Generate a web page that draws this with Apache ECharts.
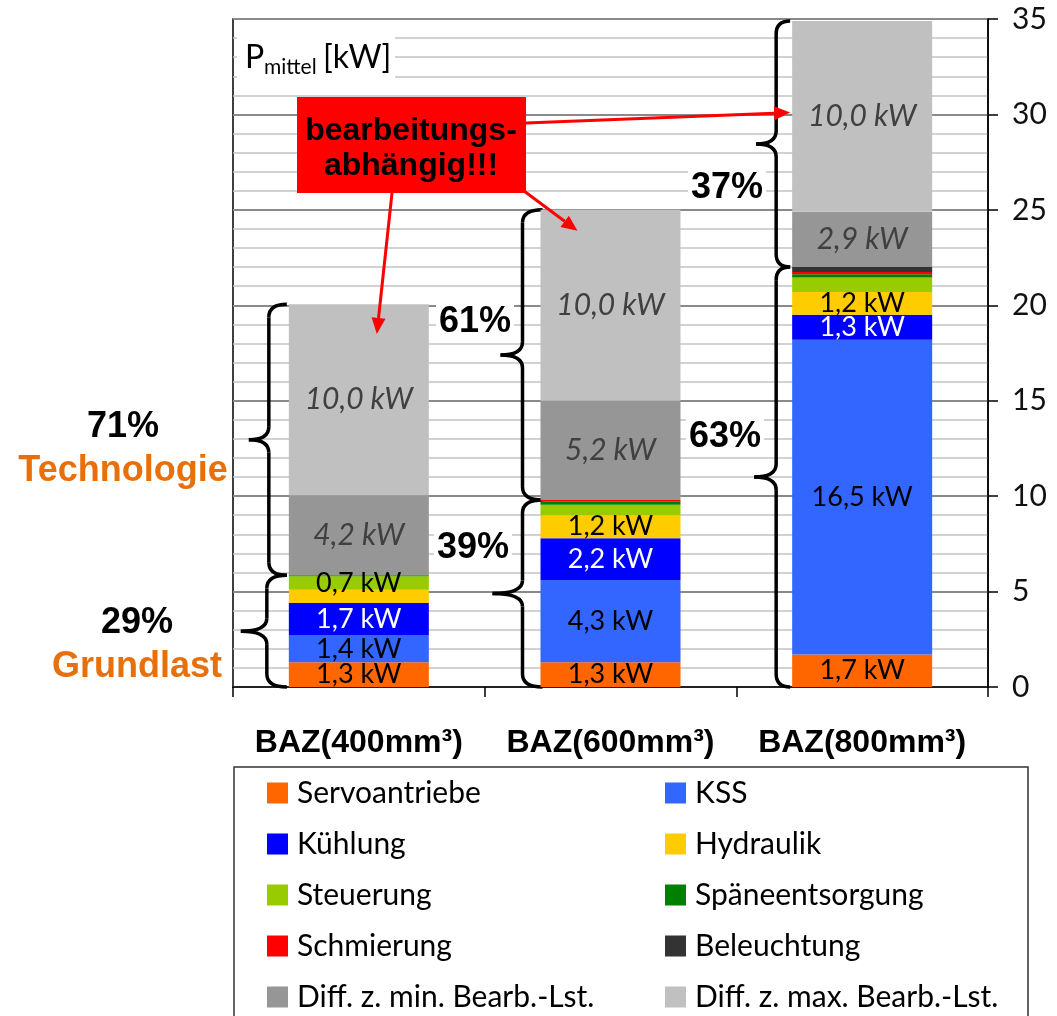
<!DOCTYPE html>
<html>
<head>
<meta charset="utf-8">
<script src="https://cdn.jsdelivr.net/npm/echarts@6/dist/echarts.min.js"></script>
<style>
  html, body { margin: 0; padding: 0; background: #fff; }
  #chart { width: 1057px; height: 1016px; }
</style>
</head>
<body>
<div id="chart"></div>
<script>
// Mean electrical power of three machining centres, split by consumer [kW]
const categories = ['BAZ(400mm³)', 'BAZ(600mm³)', 'BAZ(800mm³)'];
const servoantriebe    = [1.3, 1.3, 1.7];
const kss              = [1.4, 4.3, 16.5];
const kuehlung         = [1.7, 2.2, 1.3];
const hydraulik        = [0.7, 1.2, 1.2];
const steuerung        = [0.7, 0.55, 0.75];
const spaeneentsorgung = [0.05, 0.15, 0.18];
const schmierung       = [0.0, 0.1, 0.12];
const beleuchtung      = [0.0, 0.0, 0.25];
const diffMinBearb     = [4.2, 5.2, 2.9];
const diffMaxBearb     = [10.0, 10.0, 10.0];
const yTickLabels      = [0, 5, 10, 15, 20, 25, 30, 35];

const calibriLike = 'Lato, "Open Sans", sans-serif';
const arialLike = '"Liberation Sans", Arial, sans-serif';

// series: name, values, colour, label colour, label italics, which bars carry a label
const seriesDefs = [
  ['Servoantriebe', servoantriebe, '#FF6600', '#000', false, [1, 1, 1]],
  ['KSS', kss, '#3366FF', '#000', false, [1, 1, 1]],
  ['Kühlung', kuehlung, '#0000FF', '#fff', false, [1, 1, 1]],
  ['Hydraulik', hydraulik, '#FFCC00', '#000', false, [0, 1, 1]],
  ['Steuerung', steuerung, '#99CC00', '#000', false, [1, 0, 0]],
  ['Späneentsorgung', spaeneentsorgung, '#008000', '#000', false, [0, 0, 0]],
  ['Schmierung', schmierung, '#FF0000', '#000', false, [0, 0, 0]],
  ['Beleuchtung', beleuchtung, '#333333', '#fff', false, [0, 0, 0]],
  ['Diff. z. min. Bearb.-Lst.', diffMinBearb, '#969696', '#404040', true, [1, 1, 1]],
  ['Diff. z. max. Bearb.-Lst.', diffMaxBearb, '#C0C0C0', '#404040', true, [1, 1, 1]]
];

const fmtKW = v => v.toFixed(1).replace('.', ',') + ' kW';

const series = seriesDefs.map(([name, values, color, labelColor, italic, flags]) => ({
  name,
  type: 'bar',
  stack: 'leistung',
  barWidth: 140,
  itemStyle: { color },
  label: {
    position: 'inside',
    color: labelColor,
    fontFamily: calibriLike,
    fontSize: italic ? 30 : 27,
    fontStyle: italic ? 'italic' : 'normal',
    formatter: p => fmtKW(p.value)
  },
  data: values.map((v, i) => ({ value: v, label: { show: !!flags[i] } }))
}));

const leftLegend = ['Servoantriebe', 'Kühlung', 'Steuerung', 'Schmierung', 'Diff. z. min. Bearb.-Lst.'];
const rightLegend = ['KSS', 'Hydraulik', 'Späneentsorgung', 'Beleuchtung', 'Diff. z. max. Bearb.-Lst.'];

const legendBase = {
  orient: 'vertical',
  top: 778,
  itemWidth: 21,
  itemHeight: 21,
  itemGap: 21,
  icon: 'rect',
  selectedMode: false,
  padding: 0,
  textStyle: { fontFamily: calibriLike, fontSize: 30, color: '#000', lineHeight: 30, padding: [0, 0, 0, 4] }
};

const chart = echarts.init(document.getElementById('chart'), null, { renderer: 'canvas' });

chart.setOption({
  animation: false,
  backgroundColor: '#fff',
  grid: { left: 233, right: 69, top: 19, bottom: 329, show: true, borderColor: '#000', borderWidth: 1.5 },
  legend: [
    Object.assign({}, legendBase, { left: 267, data: leftLegend }),
    Object.assign({}, legendBase, { left: 665, data: rightLegend })
  ],
  xAxis: {
    type: 'category',
    data: categories,
    axisLine: { lineStyle: { color: '#000', width: 1.5 } },
    axisTick: { show: true, length: 10, lineStyle: { color: '#000', width: 1.5 } },
    axisLabel: {
      interval: 0,
      margin: 40,
      color: '#000',
      fontFamily: arialLike,
      fontWeight: 'bold',
      fontSize: 32
    }
  },
  yAxis: {
    type: 'value',
    position: 'right',
    min: yTickLabels[0],
    max: yTickLabels[yTickLabels.length - 1],
    interval: yTickLabels[1] - yTickLabels[0],
    axisLine: { show: true, lineStyle: { color: '#000', width: 1.5 } },
    axisTick: { show: true, length: 10, lineStyle: { color: '#000', width: 1.5 } },
    axisLabel: { margin: 24, color: '#111', fontFamily: calibriLike, fontSize: 30 },
    splitLine: { show: true, lineStyle: { color: '#8a8a8a', width: 2 } },
    minorTick: { show: false, splitNumber: 5 },
    minorSplitLine: { show: true, lineStyle: { color: '#c4c4c4', width: 1.5 } }
  },
  series
});

// ---- annotations: braces, shares, red call-out ----
const px = (ci, v) => chart.convertToPixel({ gridIndex: 0 }, [ci, v]);
const halfBar = 70;

const baseLoad = categories.map((_, i) =>
  servoantriebe[i] + kss[i] + kuehlung[i] + hydraulik[i] + steuerung[i] +
  spaeneentsorgung[i] + schmierung[i] + beleuchtung[i]);
const totals = categories.map((_, i) => baseLoad[i] + diffMinBearb[i] + diffMaxBearb[i]);

// curly brace built from quadratic curves and straight spine pieces
function brace(xTip, xv, xp, yTop, yBot) {
  const ym = (yTop + yBot) / 2, r = 13;
  const st = { stroke: '#000', lineWidth: 3.5, fill: null };
  const q = (x1, y1, cx, cy, x2, y2) => ({ type: 'bezierCurve', shape: { x1, y1, cpx1: cx, cpy1: cy, x2, y2 }, style: st });
  const l = (x1, y1, x2, y2) => ({ type: 'line', shape: { x1, y1, x2, y2 }, style: st });
  return {
    type: 'group', z: 100,
    children: [
      q(xTip, yTop, xv, yTop, xv, yTop + r),
      l(xv, yTop + r, xv, ym - r),
      q(xv, ym - r, xv, ym, xp, ym),
      q(xp, ym, xv, ym, xv, ym + r),
      l(xv, ym + r, xv, yBot - r),
      q(xv, yBot - r, xv, yBot, xTip, yBot)
    ]
  };
}

const graphics = [];
// brace offsets from the bar's left edge: [tip, spine, point]
const braceX = [[-2, -20, -40], [2, -18, -40], [-2, -16, -36]];
const braceXLow = [[-2, -22, -48], [2, -18, -48], [-2, -16, -38]];

categories.forEach((_, i) => {
  const left = px(i, 0)[0] - halfBar;
  const yTop = px(i, totals[i])[1];
  const yBase = px(i, baseLoad[i])[1];
  const yZero = px(i, 0)[1];
  const [t, s, p] = braceX[i];
  const [t2, s2, p2] = braceXLow[i];
  graphics.push(brace(left + t, left + s, left + p, yTop, yBase));
  graphics.push(brace(left + t2, left + s2, left + p2, yBase, yZero));
});

const pctText = (txt, x, y) => ({
  type: 'text', z: 101,
  style: {
    text: txt, x, y, align: 'center', verticalAlign: 'middle',
    font: `bold 36px ${arialLike}`, fill: '#000',
    backgroundColor: '#fff', padding: [0, 3]
  }
});
const orangeText = (txt, x, y) => ({
  type: 'text', z: 101,
  style: { text: txt, x, y, align: 'center', verticalAlign: 'middle', font: `bold 36px ${arialLike}`, fill: '#E8700A' }
});

const techShare = categories.map((_, i) => Math.round(100 * (diffMinBearb[i] + diffMaxBearb[i]) / totals[i]));
const baseShare = categories.map((_, i) => Math.round(100 * baseLoad[i] / totals[i]));

graphics.push(pctText(techShare[0] + '%', 123, 427));
graphics.push(orangeText('Technologie', 123, 471));
graphics.push(pctText(baseShare[0] + '%', 137, 623));
graphics.push(orangeText('Grundlast', 137, 667));
graphics.push(pctText(techShare[1] + '%', 475, 322));
graphics.push(pctText(baseShare[1] + '%', 473, 548));
graphics.push(pctText(techShare[2] + '%', 727, 188));
graphics.push(pctText(baseShare[2] + '%', 725, 437));

// axis title box
graphics.push({ type: 'rect', z: 100, shape: { x: 237, y: 37, width: 158, height: 44 }, style: { fill: '#fff' } });
graphics.push({ type: 'text', z: 101, style: { text: 'P', x: 245, y: 58, verticalAlign: 'middle', font: `32px ${calibriLike}`, fill: '#000' } });
graphics.push({ type: 'text', z: 101, style: { text: 'mittel', x: 264, y: 67, verticalAlign: 'middle', font: `21px ${calibriLike}`, fill: '#000' } });
graphics.push({ type: 'text', z: 101, style: { text: '[kW]', x: 323, y: 58, verticalAlign: 'middle', font: `32px ${calibriLike}`, fill: '#000' } });

// red call-out with arrows into the machining-dependent segments
function arrow(x1, y1, x2, y2) {
  const ang = Math.atan2(y2 - y1, x2 - x1);
  const len = 16, wid = 7;
  const bx = x2 - len * Math.cos(ang), by = y2 - len * Math.sin(ang);
  const nx = -Math.sin(ang), ny = Math.cos(ang);
  return [
    { type: 'line', z: 102, shape: { x1, y1, x2: bx, y2: by }, style: { stroke: '#FF0000', lineWidth: 3 } },
    { type: 'polygon', z: 102, shape: { points: [[x2, y2], [bx + nx * wid, by + ny * wid], [bx - nx * wid, by - ny * wid]] }, style: { fill: '#FF0000' } }
  ];
}
const tip1 = px(0, 18.5); tip1[0] += 18;
const tip2 = px(1, 23.9); tip2[0] -= 33;
const tip3 = px(2, 30.1); tip3[0] -= 72;
graphics.push(...arrow(392, 193, tip1[0], tip1[1]));
graphics.push(...arrow(524, 191, tip2[0], tip2[1]));
graphics.push(...arrow(526, 123, tip3[0], tip3[1]));

graphics.push({ type: 'rect', z: 103, shape: { x: 297, y: 97, width: 229, height: 96 }, style: { fill: '#FF0000' } });
graphics.push({ type: 'text', z: 104, style: { text: 'bearbeitungs-', x: 411, y: 131, align: 'center', verticalAlign: 'middle', font: `bold 32px ${arialLike}`, fill: '#000' } });
graphics.push({ type: 'text', z: 104, style: { text: 'abhängig!!!', x: 411, y: 166, align: 'center', verticalAlign: 'middle', font: `bold 32px ${arialLike}`, fill: '#000' } });

// legend frame
graphics.push({ type: 'rect', z: 1, shape: { x: 234, y: 767, width: 794, height: 270 }, style: { fill: null, stroke: '#333', lineWidth: 1.5 } });

chart.setOption({ graphic: graphics });
</script>
</body>
</html>
